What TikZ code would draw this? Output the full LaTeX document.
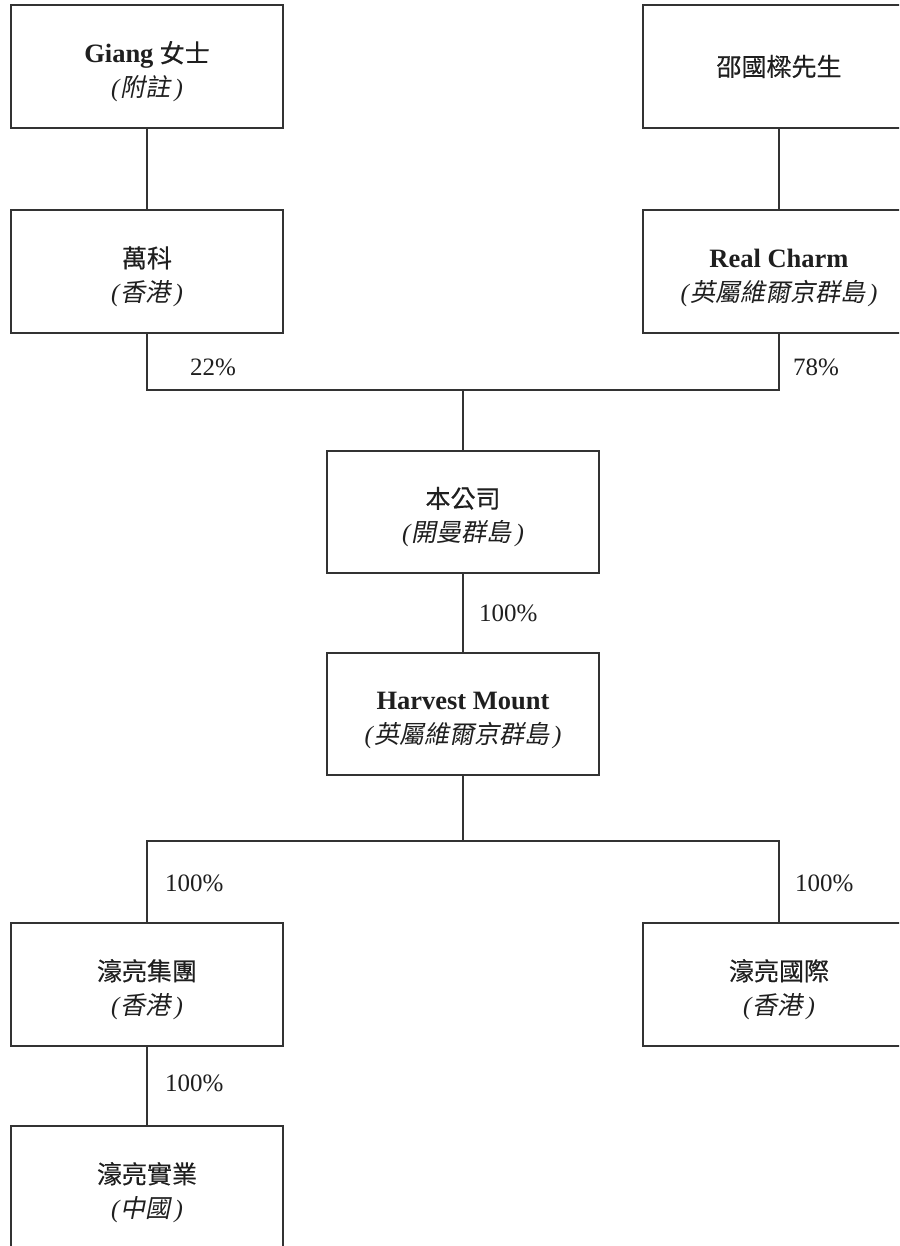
\documentclass[tikz,border=0pt]{standalone}
\usepackage{fontspec}
\setmainfont{Liberation Serif}
\newfontfamily\cjk[FakeBold=0.4]{Noto Sans CJK TC}
\newfontfamily\cjkit[FakeSlant=0.2]{Noto Sans CJK TC}
\newcommand{\itl}[1]{{\itshape(}\kern1pt{\cjkit #1}\kern4pt{\itshape)}}
\newcommand{\lat}[1]{{\fontsize{26.5}{34}\selectfont\bfseries #1}}
\newcommand{\up}{\rule{0pt}{31pt}}
\begin{document}
\begin{tikzpicture}[x=1pt,y=-1pt,
  every node/.style={font=\fontsize{25}{34}\selectfont, text=black!88},
  entbox/.style={draw=black!80, line width=1.3pt, minimum width=272pt, minimum height=123pt, align=center, inner sep=0pt},
  conn/.style={draw=black!80, line width=1.3pt},
  pct/.style={anchor=west, inner sep=0pt}]
\useasboundingbox (0,0) rectangle (899,1246);
\clip (0,0) rectangle (899,1246);
\node[entbox] (gi) at (147,66.5) {\up\lat{Giang} {\cjk 女士}\\ \itl{附註}};
\node[entbox] (sh) at (779,66.5) {{\cjk 邵國樑先生}};
\node[entbox] (wk) at (147,271.5) {\up{\cjk 萬科}\\ \itl{香港}};
\node[entbox] (rc) at (779,271.5) {\up\lat{Real Charm}\\ \itl{英屬維爾京群島}};
\node[entbox, minimum height=122pt] (co) at (463,512) {\up{\cjk 本公司}\\ \itl{開曼群島}};
\node[entbox, minimum height=122pt] (hm) at (463,714) {\up\lat{Harvest Mount}\\ \itl{英屬維爾京群島}};
\node[entbox] (hg) at (147,984.5) {\up{\cjk 濠亮集團}\\ \itl{香港}};
\node[entbox] (hi) at (779,984.5) {\up{\cjk 濠亮國際}\\ \itl{香港}};
\node[entbox] (hs) at (147,1187.5) {\up{\cjk 濠亮實業}\\ \itl{中國}};
\coordinate (j1) at (463,390);
\coordinate (j2) at (463,841);
\draw[conn] (gi.south) -- (wk.north);
\draw[conn] (sh.south) -- (rc.north);
\draw[conn] (wk.south) |- (j1);
\draw[conn] (rc.south) |- (j1);
\draw[conn] (j1) -- (co.north);
\draw[conn] (co.south) -- (hm.north);
\draw[conn] (hm.south) -- (j2);
\draw[conn] (j2) -| (hg.north);
\draw[conn] (j2) -| (hi.north);
\draw[conn] (hg.south) -- (hs.north);
\node[pct] (p1) at (190,367) {22\%};
\node[pct] (p2) at (793,367) {78\%};
\node[pct] (p3) at (479,613) {100\%};
\node[pct] (p4) at (165,883) {100\%};
\node[pct] (p5) at (795,883) {100\%};
\node[pct] (p6) at (165,1083) {100\%};
\end{tikzpicture}
\end{document}
